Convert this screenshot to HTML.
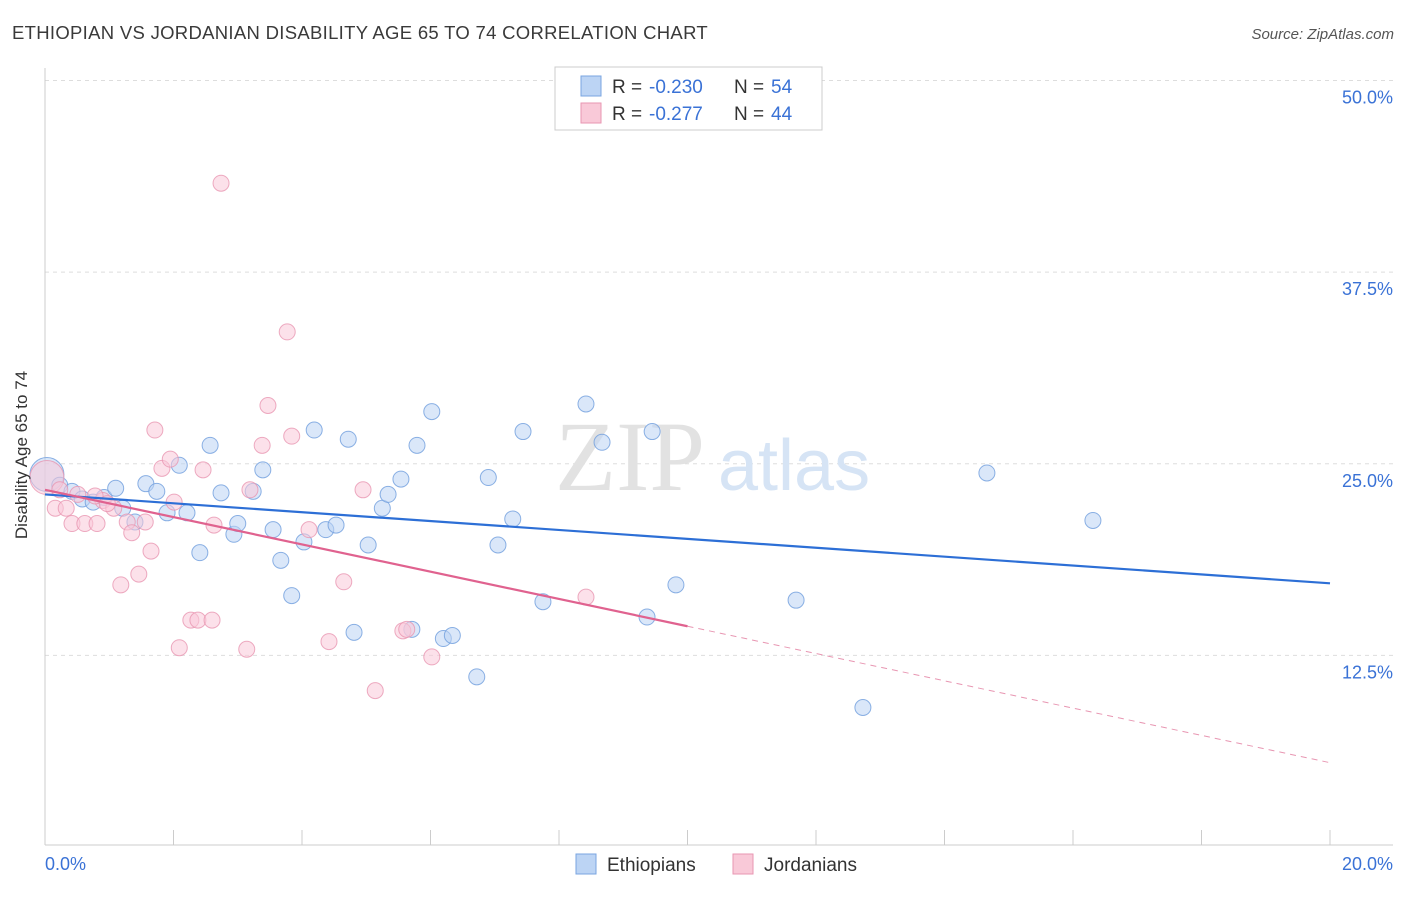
<!DOCTYPE html>
<html><head><meta charset="utf-8"><style>
body{margin:0;background:#fff;font-family:"Liberation Sans",sans-serif}
svg text{font-family:"Liberation Sans",sans-serif}
</style></head><body>
<svg id="chart" width="1406" height="892" xmlns="http://www.w3.org/2000/svg">
<text x="12" y="39" font-size="18.5" fill="#3a3a3a" letter-spacing="0.3">ETHIOPIAN VS JORDANIAN DISABILITY AGE 65 TO 74 CORRELATION CHART</text>
<text x="1394" y="39" font-size="15" fill="#555" text-anchor="end" font-style="italic">Source: ZipAtlas.com</text>
<g id="grid"></g>
<g id="axes"></g>
<text x="555" y="490" font-size="100" fill="#e2e2e2" style="font-family:'Liberation Serif',serif">ZIP</text>
<text x="718" y="490" font-size="72" fill="#d6e4f5">atlas</text>
<g id="pts"></g>
<g id="lines"></g>
<text x="27" y="455" font-size="17" fill="#333" text-anchor="middle" transform="rotate(-90 27 455)">Disability Age 65 to 74</text>
<g>
<rect x="555" y="67" width="267" height="63" fill="#fff" stroke="#ccc"/>
<rect x="581" y="76" width="20" height="20" fill="#bcd4f4" stroke="#7aa5e0"/>
<rect x="581" y="103" width="20" height="20" fill="#f9c9d8" stroke="#e896b2"/>
<text x="612" y="93" font-size="19" fill="#333">R =</text>
<text x="649" y="93" font-size="19" fill="#3a72d6">-0.230</text>
<text x="734" y="93" font-size="19" fill="#333">N =</text>
<text x="771" y="93" font-size="19" fill="#3a72d6">54</text>
<text x="612" y="120" font-size="19" fill="#333">R =</text>
<text x="649" y="120" font-size="19" fill="#3a72d6">-0.277</text>
<text x="734" y="120" font-size="19" fill="#333">N =</text>
<text x="771" y="120" font-size="19" fill="#3a72d6">44</text>
</g>
<g>
<rect x="576" y="854" width="20" height="20" fill="#bcd4f4" stroke="#7aa5e0"/>
<text x="607" y="871" font-size="19" fill="#333">Ethiopians</text>
<rect x="733" y="854" width="20" height="20" fill="#f9c9d8" stroke="#e896b2"/>
<text x="764" y="871" font-size="19" fill="#333">Jordanians</text>
</g>
</svg>
<script>
const yTicks=[12.5,25,37.5,50];
const yTickLabels=["12.5%","25.0%","37.5%","50.0%"];
const xTickLabels=["0.0%","20.0%"];
const ethX=[0.03,0.23,0.42,0.58,0.75,0.92,1.1,1.21,1.4,1.57,1.74,1.9,2.09,2.21,2.41,2.57,2.74,2.94,3.0,3.24,3.39,3.55,3.67,3.84,4.03,4.19,4.37,4.53,4.72,4.81,5.03,5.25,5.34,5.54,5.71,5.79,6.02,6.2,6.34,6.72,6.9,7.05,7.28,7.44,7.75,8.42,8.67,9.37,9.45,9.82,11.69,12.73,14.66,16.31];
const ethY=[24.3,23.6,23.2,22.7,22.5,22.8,23.4,22.1,21.2,23.7,23.2,21.8,24.9,21.8,19.2,26.2,23.1,20.4,21.1,23.2,24.6,20.7,18.7,16.4,19.9,27.2,20.7,21.0,26.6,14.0,19.7,22.1,23.0,24.0,14.2,26.2,28.4,13.6,13.8,11.1,24.1,19.7,21.4,27.1,16.0,28.9,26.4,15.0,27.1,17.1,16.1,9.1,24.4,21.3];
const jorX=[0.03,0.16,0.33,0.42,0.51,0.62,0.81,0.9,1.07,1.18,1.28,1.35,1.46,1.56,1.65,1.71,1.82,1.95,2.01,2.09,2.27,2.38,2.46,2.6,2.63,2.74,3.14,3.19,3.38,3.47,3.77,3.84,4.11,4.42,4.65,4.95,5.14,5.57,5.63,6.02,8.42,0.78,0.97,0.23];
const jorY=[24.1,22.1,22.1,21.1,23.0,21.1,21.1,22.6,22.1,17.1,21.2,20.5,17.8,21.2,19.3,27.2,24.7,25.3,22.5,13.0,14.8,14.8,24.6,14.8,21.0,43.3,12.9,23.3,26.2,28.8,33.6,26.8,20.7,13.4,17.3,23.3,10.2,14.1,14.2,12.4,16.3,22.9,22.4,23.3];
const ethTrend=[23.0,17.2];
const jorTrend=[23.3,5.5];
const X0=45,XS=64.25,Y0=847,YS=15.33;
const sx=v=>X0+v*XS, sy=v=>Y0-v*YS;
const NS="http://www.w3.org/2000/svg";
function mk(tag,attrs,parent,txt){const e=document.createElementNS(NS,tag);for(const k in attrs)e.setAttribute(k,attrs[k]);if(txt!==undefined)e.textContent=txt;parent.appendChild(e);return e;}
const grid=document.getElementById('grid'),axes=document.getElementById('axes');
yTicks.forEach((t,i)=>{
 const g=mk('line',{x1:45,x2:1393,y1:sy(t),y2:sy(t),stroke:'#ddd','stroke-dasharray':'4,4'},grid);
 
 
 const l=mk('text',{x:1393,y:sy(t)+23,'font-size':18,fill:'#3a72d6','text-anchor':'end'},axes,yTickLabels[i]);
 
 
});
const xa=mk('line',{x1:45,x2:1393,y1:845,y2:845,stroke:'#ccc'},axes);


const ya=mk('line',{x1:45,x2:45,y1:68,y2:845,stroke:'#ccc'},axes);


for(let i=0;i<=10;i++){const t=mk('line',{x1:sx(i*2),x2:sx(i*2),y1:830,y2:845,stroke:'#ccc'},axes);
 
 }
const xl0=mk('text',{x:45,y:870,'font-size':18,fill:'#3a72d6'},axes,xTickLabels[0]);


const xl1=mk('text',{x:1393,y:870,'font-size':18,fill:'#3a72d6','text-anchor':'end'},axes,xTickLabels[1]);


const pts=document.getElementById('pts');
function drawPts(X,Y,fill,stroke,name){X.forEach((x,i)=>{const c=mk('circle',{cx:sx(x),cy:sy(Y[i]),r:i===0?17:8,fill:fill,'fill-opacity':0.55,stroke:stroke,'stroke-opacity':0.8,'stroke-width':1},pts);
 
 });}
drawPts(ethX,ethY,'#bcd4f4','#6f9ddd','ethiopian-point');
drawPts(jorX,jorY,'#f9c9d8','#e896b2','jordanian-point');
const lines=document.getElementById('lines');
const slope=(jorTrend[1]-jorTrend[0])/20, xe=10;
const bl=mk('line',{x1:sx(0),y1:sy(ethTrend[0]),x2:sx(20),y2:sy(ethTrend[1]),stroke:'#2d6fd6','stroke-width':2.2},lines);


const pl=mk('line',{x1:sx(0),y1:sy(jorTrend[0]),x2:sx(xe),y2:sy(jorTrend[0]+slope*xe),stroke:'#e0628f','stroke-width':2.2},lines);


const pd=mk('line',{x1:sx(xe),y1:sy(jorTrend[0]+slope*xe),x2:sx(20),y2:sy(jorTrend[1]),stroke:'#e896b2','stroke-width':1,'stroke-dasharray':'6,5'},lines);


</script>
</body></html>
